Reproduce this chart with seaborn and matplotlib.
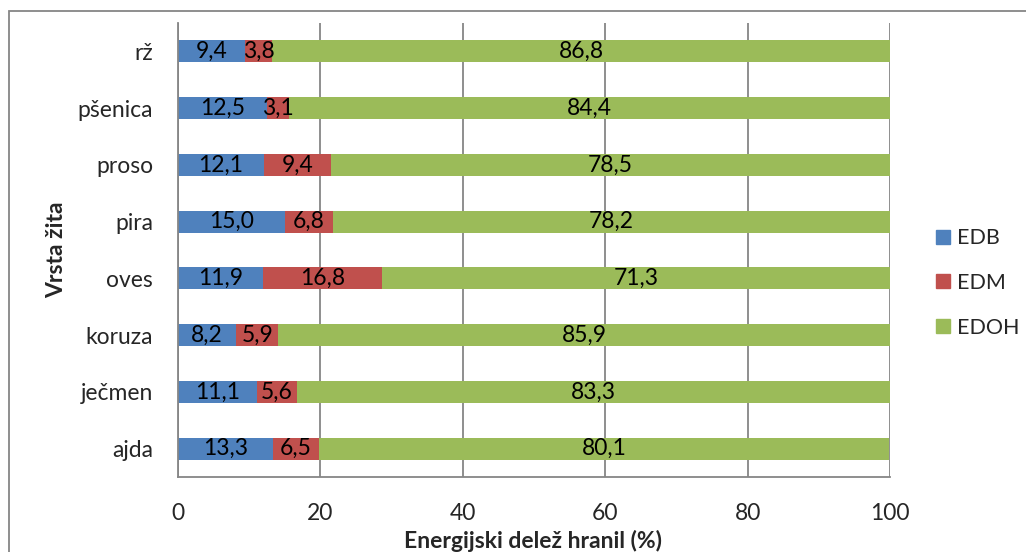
import matplotlib
matplotlib.use("Agg")
import matplotlib.pyplot as plt
from matplotlib.patches import Rectangle
from matplotlib.lines import Line2D
import seaborn as sns
import pandas as pd
import numpy as np

# Energy share of nutrients per cereal type (%)
zita = ["rž", "pšenica", "proso", "pira", "oves", "koruza", "ječmen", "ajda"]
edb = [9.4, 12.5, 12.1, 15.0, 11.9, 8.2, 11.1, 13.3]
edm = [3.8, 3.1, 9.4, 6.8, 16.8, 5.9, 5.6, 6.5]
edoh = [86.8, 84.4, 78.5, 78.2, 71.3, 85.9, 83.3, 80.1]
series_names = ["EDB", "EDM", "EDOH"]
series_colors = ["#4F81BD", "#C0504D", "#9BBB59"]
x_ticks = [0, 20, 40, 60, 80, 100]

FS = 16.5
LEG_FS = 15.5

sns.set_theme(style="white")
plt.rcParams["font.family"] = ["Lato", "DejaVu Sans"]

df = pd.DataFrame({"zito": zita, "EDB": edb, "EDM": edm, "EDOH": edoh})
df["c1"] = df["EDB"]
df["c2"] = df["EDB"] + df["EDM"]
df["c3"] = df["EDB"] + df["EDM"] + df["EDOH"]

fig = plt.figure(figsize=(10.26, 5.52), dpi=100)
ax = fig.add_axes([178 / 1026, 1 - 477 / 552, (890 - 178) / 1026, (477 - 23) / 552])

# Stacked bars drawn as cumulative layers, widest first
for col, color in zip(["c3", "c2", "c1"], series_colors[::-1]):
    sns.barplot(data=df, x=col, y="zito", order=zita, orient="h", color=color,
                width=0.39, saturation=1, linewidth=0, ax=ax, errorbar=None)

# Value labels at the centre of each segment
for i, row in df.iterrows():
    left = 0.0
    for name in series_names:
        v = row[name]
        ax.text(left + v / 2, i, f"{v:.1f}".replace(".", ","), ha="center", va="center",
                fontsize=FS, color="black")
        left += v

ax.set_xlim(0, 100)
ax.set_ylim(7.5, -0.5)
ax.set_xticks(x_ticks)
ax.set_xticklabels([str(t) for t in x_ticks], fontsize=FS)
ax.tick_params(axis="x", length=6, color="#868686", width=1.2, direction="out", pad=13)
ax.tick_params(axis="y", which="major", length=0, pad=18, labelsize=FS)
ax.set_yticks(np.arange(-0.5, 8, 1.0), minor=True)
ax.tick_params(axis="y", which="minor", length=6, color="#868686", width=1.2, direction="out")
ax.xaxis.grid(True, color="#868686", linewidth=1.3)
ax.set_axisbelow(True)
for side in ["top", "right"]:
    ax.spines[side].set_visible(False)
for side in ["left", "bottom"]:
    ax.spines[side].set_color("#868686")
    ax.spines[side].set_linewidth(1.3)

ax.set_xlabel("Energijski delež hranil (%)", fontsize=FS, fontweight="bold")
ax.set_ylabel("Vrsta žita", fontsize=FS, fontweight="bold")
ax.xaxis.set_label_coords((533 - 178) / 712, -(530 - 477) / 454)
ax.xaxis.label.set_va("top")
ax.yaxis.set_label_coords(-(178 - 67) / 712, 0.5)

handles = [Line2D([0], [0], marker="s", linestyle="", markersize=10,
                  markerfacecolor=c, markeredgecolor=c) for c in series_colors]
fig.legend(handles, series_names, loc="center left", bbox_to_anchor=(924 / 1026, 1 - 283 / 552),
           frameon=False, fontsize=LEG_FS, labelspacing=1.15, handletextpad=0.15,
           handlelength=1.0, borderaxespad=0)

# Chart area border
fig.patches.append(Rectangle((9 / 1026, -0.05), 1.1, 1 - 11 / 552 + 0.05,
                             transform=fig.transFigure, fill=False,
                             edgecolor="#868686", linewidth=1.3))

fig.savefig("out.png", dpi=100)
